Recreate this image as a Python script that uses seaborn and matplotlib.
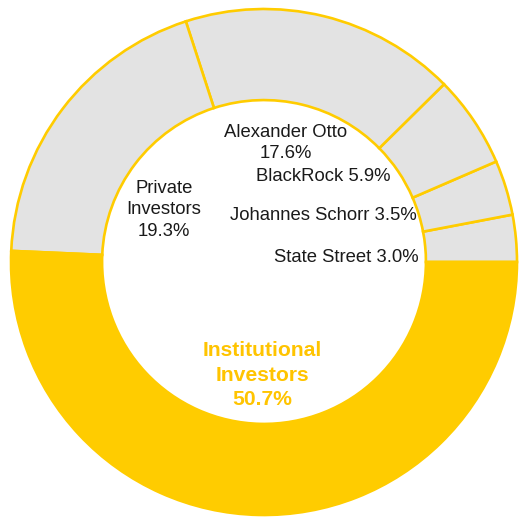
import matplotlib
matplotlib.use("Agg")
import matplotlib.pyplot as plt
import seaborn as sns

# shareholder structure (percent)
holders = ['State Street', 'Johannes Schorr', 'BlackRock', 'Alexander Otto',
           'Private Investors', 'Institutional Investors']
shares = [3.0, 3.5, 5.9, 17.6, 19.3, 50.7]
label_texts = ['State Street 3.0%', 'Johannes Schorr 3.5%', 'BlackRock 5.9%',
               'Alexander Otto\n17.6%', 'Private\nInvestors\n19.3%',
               'Institutional\nInvestors\n50.7%']

GOLD = '#FFCC00'
GRAY = '#E3E3E3'

# label placement inside the hole (data coords, radius = 1)
label_pos = [(0.324, 0.016), (0.235, 0.182), (0.233, 0.336),
             (0.087, 0.470), (-0.395, 0.206), (-0.008, -0.447)]


def desenhar_donut():
    sns.set_style("white")
    plt.rcParams['font.family'] = ['Liberation Sans', 'DejaVu Sans']

    fig = plt.figure(figsize=(5.19, 5.17), dpi=100)
    ax = fig.add_axes([0, 0, 1, 1])

    colors = sns.color_palette([GRAY] * 5 + [GOLD])
    ax.pie(shares, colors=colors, startangle=0, counterclock=True, radius=1,
           wedgeprops=dict(width=0.36, edgecolor=GOLD, linewidth=1.9))

    for txt, (x, y), name in zip(label_texts, label_pos, holders):
        if name == 'Institutional Investors':
            ax.text(x, y, txt, ha='center', va='center', fontsize=15.2,
                    fontweight='bold', color='#FFC400', linespacing=1.38)
        else:
            ax.text(x, y, txt, ha='center', va='center', fontsize=13.3,
                    color='#1a1a1a', linespacing=1.32)

    ax.set_xlim(-264 / 253, 255 / 253)
    ax.set_ylim(-255 / 253, 262 / 253)
    ax.set_aspect('equal')
    ax.axis('off')
    fig.savefig('out.png', dpi=100, facecolor='white')


if __name__ == "__main__":
    desenhar_donut()
